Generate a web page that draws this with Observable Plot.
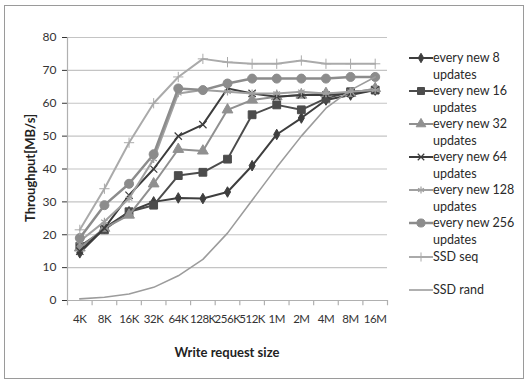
<!DOCTYPE html>
<html><head><meta charset="utf-8">
<script src="https://cdn.jsdelivr.net/npm/d3@7"></script>
<script src="https://cdn.jsdelivr.net/npm/@observablehq/plot@0.6"></script>
<style>
body{margin:0;background:#fff;font-family:Lato,"Liberation Sans",sans-serif;}
#wrap{position:relative;width:528px;height:380px;overflow:hidden;background:#fff;}
#frame{position:absolute;left:4px;top:5px;width:520px;height:374px;border:1px solid #9a9a9a;box-sizing:border-box;}
#chart{position:absolute;left:0;top:0;}
#chart g[aria-label^="x-axis"] text{font-size:11.5px;letter-spacing:-0.45px;}
.ytitle{position:absolute;left:30px;top:168px;transform:translate(-50%,-50%) rotate(-90deg);font-weight:bold;font-size:13px;color:#222;white-space:nowrap;}
.xtitle{position:absolute;left:227px;top:352px;transform:translate(-50%,-50%);font-weight:bold;font-size:13px;color:#222;white-space:nowrap;}
.leg{position:absolute;left:408px;font-size:12.5px;color:#2a2a2a;line-height:17px;}
.leg svg{position:absolute;left:0;top:0;}
.leg span{position:absolute;left:25px;top:0;width:82px;}
</style></head>
<body>
<div id="wrap">
  <div id="frame"></div>
  <div id="chart"></div>
  <div class="ytitle">Throughput[MB/s]</div>
  <div class="xtitle">Write request size</div>
</div>
<script>
const categories = ["4K","8K","16K","32K","64K","128K","256K","512K","1M","2M","4M","8M","16M"];
const yTicks = [0,10,20,30,40,50,60,70,80];
const seriesNames = ["every new 8 updates","every new 16 updates","every new 32 updates","every new 64 updates","every new 128 updates","every new 256 updates","SSD seq","SSD rand"];
const every8   = [14.5, 22, 27, 30, 31.2, 31, 33, 41, 50.5, 55.5, 61, 62.5, 64];
const every16  = [16.5, 21.5, 27, 29, 38, 39, 43, 56.5, 59.5, 58, 61.5, 63.5, 64];
const every32  = [16, 22, 26, 35.5, 46, 45.5, 58, 61, 62, 62.5, 63, 63, 64.5];
const every64  = [15, 22, 32, 40, 50, 53.5, 64.5, 63, 62, 62.5, 62.5, 63, 64];
const every128 = [18, 24, 31, 43, 63, 64, 63.5, 63, 63, 63.5, 63, 63.5, 64];
const every256 = [19, 29, 35.5, 44.5, 64.5, 64, 66, 67.5, 67.5, 67.5, 67.5, 68, 68];
const ssdSeq   = [21.5, 34, 48, 60, 68, 73.5, 72.5, 72, 72, 73, 72, 72, 72];
const ssdRand  = [0.5, 1, 2, 4, 7.5, 12.5, 20.5, 30.5, 40.5, 50, 58.5, 64, 68];

const seriesValues = [every8, every16, every32, every64, every128, every256, ssdSeq, ssdRand];
const styles = [
  {color:"#3e3e3e", symbol:"diamond", r:3.2, filled:true, width:2, sw:1},
  {color:"#4c4c4c", symbol:"square", r:4.4, filled:true, width:2, sw:1},
  {color:"#909090", symbol:"triangle", r:4, filled:true, width:2, sw:1},
  {color:"#3c3c3c", symbol:"times", r:3.4, filled:false, width:2, sw:1.2},
  {color:"#a0a0a0", symbol:"asterisk", r:3.6, filled:false, width:2, sw:1.2},
  {color:"#8c8c8c", symbol:"circle", r:4.5, filled:true, width:2.5, sw:1},
  {color:"#aaaaaa", symbol:"plus", r:3.4, filled:false, width:2, sw:1},
  {color:"#9c9c9c", symbol:null, r:0, filled:false, width:1.6, sw:1}
];

const idx = d3.range(categories.length);
const bounds = d3.range(categories.length + 1).map(i => i - 0.5);
const marks = [
  Plot.ruleY(yTicks.filter(t => t > 0), {stroke:"#c4c4c4", strokeWidth:1.2}),
  Plot.ruleY([0], {stroke:"#b0b0b0", strokeWidth:1.2}),
  Plot.ruleX([-0.5], {y1:0, y2:80, stroke:"#b0b0b0", strokeWidth:1.2}),
  Plot.ruleX(bounds, {x:d=>d, y1:0, y2:-1.6, stroke:"#b0b0b0", strokeWidth:1.2})
];
seriesValues.forEach((vals, s) => {
  const st = styles[s];
  const rows = vals.map((v, i) => ({i, v}));
  marks.push(Plot.line(rows, {x:"i", y:"v", stroke:st.color, strokeWidth:st.width}));
  if (st.symbol) {
    marks.push(Plot.dot(rows, {x:"i", y:"v", symbol:st.symbol, r:st.r,
      fill: st.filled ? st.color : "none", stroke: st.color, strokeWidth: st.sw}));
  }
});

const chart = Plot.plot({
  width:528, height:380,
  marginLeft:67, marginRight:141, marginTop:37, marginBottom:80,
  style:{fontSize:"12px", fontFamily:"Lato, 'Liberation Sans', sans-serif", color:"#333", background:"transparent"},
  x:{domain:[-0.5, categories.length - 0.5], ticks:idx, tickFormat:i => categories[i], tickSize:0, tickPadding:14, label:null},
  y:{domain:[0,80], ticks:yTicks, tickSize:5, tickPadding:6, label:null},
  marks
});
document.getElementById("chart").appendChild(chart);

// legend
const legendTops = [49, 82, 115, 148, 181, 214, 248, 281];
const symMap = {diamond:d3.symbolDiamond, square:d3.symbolSquare, triangle:d3.symbolTriangle,
  times:d3.symbolTimes || d3.symbolX, asterisk:d3.symbolAsterisk, circle:d3.symbolCircle, plus:d3.symbolPlus};
const wrap = document.getElementById("wrap");
seriesNames.forEach((name, s) => {
  const st = styles[s];
  const div = document.createElement("div");
  div.className = "leg";
  div.style.top = legendTops[s] + "px";
  const svg = d3.create("svg").attr("width", 26).attr("height", 17);
  svg.append("line").attr("x1", 1).attr("x2", 25).attr("y1", 9).attr("y2", 9)
    .attr("stroke", st.color).attr("stroke-width", st.width);
  if (st.symbol) {
    svg.append("path").attr("transform", "translate(13,9)")
      .attr("d", d3.symbol(symMap[st.symbol], Math.PI * st.r * st.r * 0.8)())
      .attr("fill", st.filled ? st.color : "none").attr("stroke", st.color).attr("stroke-width", st.sw);
  }
  div.appendChild(svg.node());
  const span = document.createElement("span");
  span.textContent = name;
  div.appendChild(span);
  wrap.appendChild(div);
});
</script>
</body></html>
